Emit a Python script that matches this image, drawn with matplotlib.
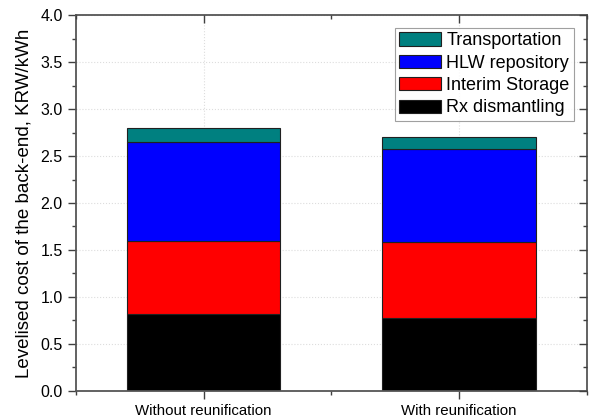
import numpy as np
import matplotlib.pyplot as plt
from matplotlib.ticker import MultipleLocator

plt.rcParams['font.family'] = ['Liberation Sans', 'DejaVu Sans']

# data (KRW/kWh)
cases = ['Without reunification', 'With reunification']
rx_dismantling = [0.82, 0.78]
interim_storage = [0.78, 0.80]
hlw_repository = [1.05, 0.99]
transportation = [0.15, 0.13]

x = np.array([1, 2])
width = 0.6

fig = plt.figure(figsize=(5.89, 4.19), dpi=100)
ax = fig.add_axes([0.129, 0.067, 0.867, 0.897])

ax.grid(True, axis='both', which='major', linestyle=':', color='#dddddd', linewidth=0.8)
ax.set_axisbelow(True)

b0 = np.zeros(2)
h1 = ax.bar(x, rx_dismantling, width, bottom=b0, color='black', edgecolor='#202020', linewidth=0.8)
b1 = b0 + rx_dismantling
h2 = ax.bar(x, interim_storage, width, bottom=b1, color='#ff0000', edgecolor='#202020', linewidth=0.8)
b2 = b1 + interim_storage
h3 = ax.bar(x, hlw_repository, width, bottom=b2, color='#0000ff', edgecolor='#202020', linewidth=0.8)
b3 = b2 + hlw_repository
h4 = ax.bar(x, transportation, width, bottom=b3, color='#008080', edgecolor='#202020', linewidth=0.8)

ax.set_xlim(0.5, 2.5)
ax.set_ylim(0, 4.0)
ax.set_xticks(x)
ax.set_xticklabels(cases, fontsize=10.8)
ax.xaxis.set_minor_locator(MultipleLocator(0.5))
ax.yaxis.set_major_locator(MultipleLocator(0.5))
ax.yaxis.set_minor_locator(MultipleLocator(0.25))
ax.yaxis.set_major_formatter(plt.FormatStrFormatter('%.1f'))
ax.tick_params(axis='y', labelsize=11.5)
ax.tick_params(which='major', direction='out', length=6, width=1, color='#404040')
ax.tick_params(which='minor', direction='out', length=3, width=1, color='#404040')
for s in ax.spines.values():
    s.set_color('#555555')
    s.set_linewidth(1.3)

# mirrored ticks on top/right, pointing inward
ax2 = ax.twinx()
ax2.set_ylim(ax.get_ylim())
ax2.yaxis.set_major_locator(MultipleLocator(0.5))
ax2.yaxis.set_minor_locator(MultipleLocator(0.25))
ax2.tick_params(which='major', direction='in', length=6, width=1, color='#404040', labelright=False)
ax2.tick_params(which='minor', direction='in', length=3, width=1, color='#404040')
ax3 = ax.twiny()
ax3.set_xlim(ax.get_xlim())
ax3.set_xticks(x)
ax3.xaxis.set_minor_locator(MultipleLocator(0.5))
ax3.tick_params(which='major', direction='in', length=6, width=1, color='#404040', labeltop=False)
ax3.tick_params(which='minor', direction='in', length=3, width=1, color='#404040')
for a in (ax2, ax3):
    for s in a.spines.values():
        s.set_visible(False)

ax.set_ylabel('Levelised cost of the back-end, KRW/kWh', fontsize=13.5, labelpad=6)

leg = ax3.legend([h4, h3, h2, h1],
                 ['Transportation', 'HLW repository', 'Interim Storage', 'Rx dismantling'],
                 loc='upper right', fontsize=13, frameon=True, fancybox=False,
                 handlelength=2.3, handleheight=0.75, handletextpad=0.3,
                 labelspacing=0.3, borderaxespad=0.7, borderpad=0.25)
leg.get_frame().set_edgecolor('#888888')
leg.get_frame().set_linewidth(0.8)

fig.savefig('out.png', dpi=100)
